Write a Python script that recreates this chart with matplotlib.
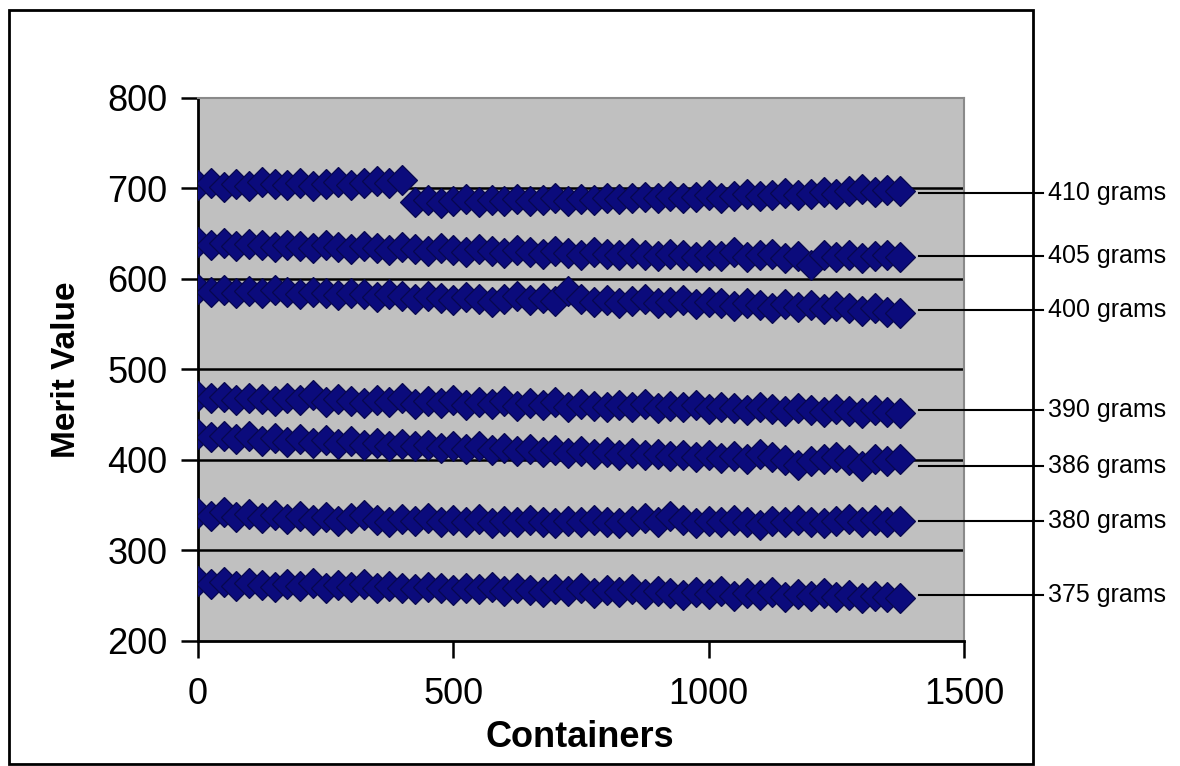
import matplotlib.pyplot as plt
from matplotlib.patches import Rectangle

plt.rcParams['font.family'] = ['Liberation Sans', 'DejaVu Sans']

# Container numbers (sampled every 25 containers)
containers = list(range(0, 1400, 25))

# Merit values per fill weight
merit_410 = [704, 706, 702, 705, 703, 707, 705, 704, 706, 703, 705, 707, 704, 706, 708, 706, 709,
             685, 687, 684, 686, 688, 685, 687, 686, 688, 686, 687, 689, 686, 688, 687, 689, 688, 690,
             691, 689, 692, 690, 691, 693, 690, 692, 694, 692, 693, 695, 693, 694, 696, 694, 697, 699,
             696, 698, 697]
merit_405 = [641, 638, 640, 636, 639, 637, 635, 638, 636, 634, 637, 635, 633, 636, 634, 632, 635, 633,
             631, 634, 632, 630, 633, 631, 629, 632, 630, 628, 631, 629, 627, 630, 628, 626, 629, 627,
             625, 628, 626, 624, 627, 625, 630, 624, 626, 628, 623, 625, 615, 627, 624, 626, 623, 625,
             627, 624]
merit_400 = [589, 586, 588, 584, 587, 585, 588, 586, 583, 586, 584, 582, 585, 583, 580, 583, 581, 578,
             581, 579, 577, 580, 578, 575, 578, 581, 577, 579, 576, 587, 578, 575, 577, 574, 576, 578,
             573, 575, 577, 572, 575, 573, 570, 574, 571, 568, 572, 569, 571, 567, 570, 568, 565, 568,
             564, 562]
merit_390 = [471, 468, 470, 466, 469, 467, 465, 468, 466, 472, 464, 467, 465, 463, 466, 464, 468, 462,
             465, 463, 466, 461, 464, 462, 465, 460, 463, 461, 464, 459, 462, 460, 458, 461, 459, 462,
             457, 460, 458, 461, 456, 459, 457, 455, 458, 456, 454, 457, 455, 453, 456, 454, 452, 455,
             453, 452]
merit_386 = [429, 425, 427, 423, 426, 421, 424, 420, 423, 419, 422, 418, 421, 417, 419, 416, 418, 415,
             417, 413, 416, 412, 415, 411, 413, 410, 412, 409, 411, 408, 410, 407, 409, 406, 408, 405,
             407, 404, 406, 403, 405, 402, 404, 401, 407, 403, 400, 395, 399, 401, 403, 400, 393, 401,
             399, 401]
merit_380 = [341, 338, 343, 337, 340, 336, 339, 335, 338, 334, 337, 333, 336, 339, 334, 332, 335, 333,
             336, 331, 334, 332, 335, 330, 333, 331, 334, 332, 330, 333, 331, 334, 332, 330, 333, 336,
             331, 338, 334, 330, 333, 331, 334, 332, 328, 333, 331, 334, 332, 330, 333, 335, 331, 334,
             332, 333]
merit_375 = [266, 263, 265, 261, 264, 262, 260, 263, 261, 264, 259, 262, 260, 263, 258, 261, 259, 257,
             260, 258, 256, 259, 257, 260, 255, 258, 256, 254, 257, 255, 258, 253, 256, 254, 257, 252,
             255, 253, 251, 254, 252, 255, 250, 253, 251, 254, 249, 252, 250, 253, 249, 251, 248, 250,
             249, 248]

all_series = [merit_410, merit_405, merit_400, merit_390, merit_386, merit_380, merit_375]

# Labels on the right and where their pointer lines sit
weight_labels = ['410 grams', '405 grams', '400 grams', '390 grams', '386 grams', '380 grams', '375 grams']
label_y = [695, 625, 566, 455, 393, 333, 251]

fig = plt.figure(figsize=(11.8, 7.66), dpi=100)
ax = fig.add_axes([0.1678, 0.1632, 0.6491, 0.7089])
ax.set_facecolor('#c0c0c0')

# Horizontal grid lines
for gy in [300, 400, 500, 600, 700]:
    ax.axhline(gy, color='black', linewidth=1.8, zorder=1)

# Data points
for series in all_series:
    ax.plot(containers, series, linestyle='none', marker='D', markersize=15,
            markerfacecolor='#0b0b7c', markeredgecolor='#07074f', markeredgewidth=0.9, zorder=3)

# Pointer lines and labels outside the plot area
for lab, ly in zip(weight_labels, label_y):
    ax.plot([1412, 1655], [ly, ly], color='black', linewidth=1.5, clip_on=False, zorder=4)
    ax.text(1665, ly, lab, fontsize=18, va='center', ha='left', clip_on=False)

ax.set_xlim(0, 1500)
ax.set_ylim(200, 800)
ax.set_xticks([0, 500, 1000, 1500])
ax.set_yticks([200, 300, 400, 500, 600, 700, 800])
ax.tick_params(axis='both', labelsize=26, length=12, width=1.8, direction='out')
ax.tick_params(axis='y', pad=10)
ax.tick_params(axis='x', pad=14)

for side in ['left', 'bottom']:
    ax.spines[side].set_color('black')
    ax.spines[side].set_linewidth(2)
for side in ['top', 'right']:
    ax.spines[side].set_color('#8a8a8a')
    ax.spines[side].set_linewidth(1.5)

ax.set_xlabel('Containers', fontsize=26, fontweight='bold')
ax.set_ylabel('Merit Value', fontsize=24, fontweight='bold')
ax.xaxis.set_label_coords(0.499, -0.145)
ax.yaxis.set_label_coords(-0.152, 0.499)

# Border around the chart
fig.patches.append(Rectangle((0.0076, 0.0026), 0.8678, 0.9844, transform=fig.transFigure,
                             fill=False, edgecolor='black', linewidth=2))

fig.savefig('out.png', dpi=100)
